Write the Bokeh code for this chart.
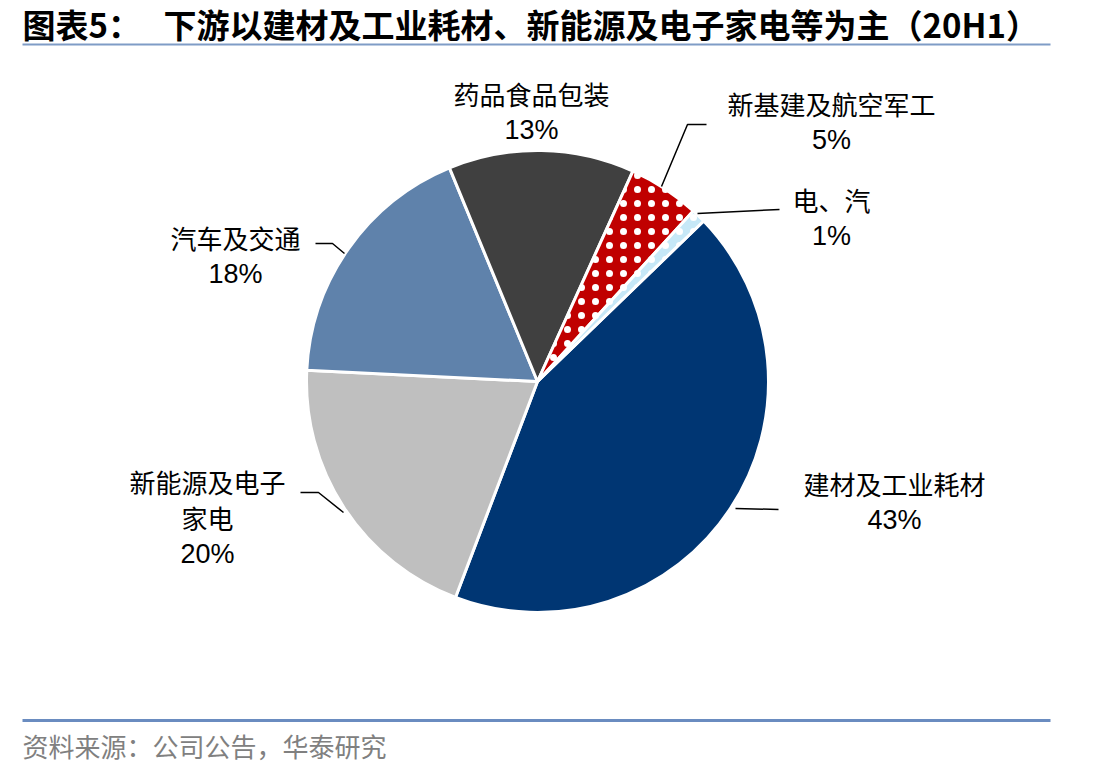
import math
from bokeh.plotting import figure
from bokeh.models import Range1d
from bokeh.core.properties import value
from bokeh.embed import file_html
from bokeh.resources import INLINE

# ---- data ----
categories = ["建材及工业耗材", "新能源及电子家电", "汽车及交通", "药品食品包装", "新基建及航空军工", "电、汽"]
values = [43, 20, 18, 13, 5, 1]
label_lines = [["建材及工业耗材"], ["新能源及电子", "家电"], ["汽车及交通"], ["药品食品包装"], ["新基建及航空军工"], ["电、汽"]]
title_head = "图表5："
title_body = "下游以建材及工业耗材、新能源及电子家电等为主（20H1）"
source_text = "资料来源：公司公告，华泰研究"

# ---- styles / layout ----
colors = ["#003673", "#BFBFBF", "#5F82AB", "#404040", "#C00000", "#C6E8F7"]
hatched = [False, False, False, False, True, True]
label_pos = [(894, 483), (207, 481), (235, 237), (531, 93), (831, 103), (831, 199)]
leaders = [
    [(735, 508), (778, 509)],
    [(300, 492), (318, 492), (343, 512)],
    [(315, 243), (332, 243), (344, 253)],
    None,
    [(661, 186), (687, 124), (706, 124)],
    [(697, 213), (779, 209)],
]

W, H = 1111, 775
CJK = "Noto Sans CJK SC"
LAT = "Liberation Sans"

def Y(y):
    return H - y

p = figure(width=W, height=H, x_range=Range1d(0, W), y_range=Range1d(0, H),
           output_backend="svg", toolbar_location=None, min_border=0,
           x_axis_location=None, y_axis_location=None)
p.grid.visible = False
p.outline_line_color = None
p.background_fill_color = "white"
p.border_fill_color = "white"

# title & rules
p.text(x=[22], y=[Y(23)], text=[title_head], text_font=value(CJK), text_font_style="bold",
       text_font_size="33px", text_baseline="middle", text_align="left", text_color="black")
p.text(x=[163], y=[Y(23)], text=[title_body], text_font=value(CJK), text_font_style="bold",
       text_font_size="33px", text_baseline="middle", text_align="left", text_color="black")
p.line(x=[22, 1050], y=[Y(44), Y(44)], line_color="#7F9CC6", line_width=2)
p.line(x=[22, 1050], y=[Y(720), Y(720)], line_color="#6A8CC0", line_width=3)
p.text(x=[22], y=[Y(745)], text=[source_text], text_font=value(CJK), text_font_size="26px",
       text_baseline="middle", text_align="left", text_color="#808080")

# pie
cx, cy, r = 537, Y(381), 231
total = sum(values)
a = math.radians(44)
for v, c, h in zip(values, colors, hatched):
    sweep = 2 * math.pi * v / total
    kw = dict(x=cx, y=cy, radius=r, start_angle=a - sweep, end_angle=a,
              fill_color=c, line_color="white", line_width=3)
    if h:
        kw.update(hatch_pattern="dot", hatch_color="white", hatch_scale=14, hatch_weight=1)
    p.wedge(**kw)
    a -= sweep

# leader lines
for seg in leaders:
    if seg:
        p.line(x=[q[0] for q in seg], y=[Y(q[1]) for q in seg], line_color="black", line_width=1.5)

# labels
for lines, v, (lx, ly) in zip(label_lines, values, label_pos):
    for i, t in enumerate(lines):
        p.text(x=[lx], y=[Y(ly + 36 * i)], text=[t], text_font=value(CJK), text_font_size="26px",
               text_align="center", text_baseline="middle", text_color="black")
    p.text(x=[lx], y=[Y(ly + 36 * len(lines))], text=[f"{v}%"], text_font=value(LAT),
           text_font_size="27px", text_align="center", text_baseline="middle", text_color="black")

open("out.html", "w").write(file_html(p, INLINE))
